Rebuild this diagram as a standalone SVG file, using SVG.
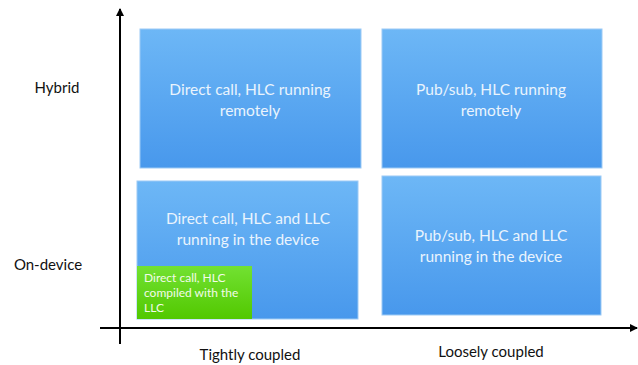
<svg xmlns="http://www.w3.org/2000/svg" width="638" height="365" viewBox="0 0 638 365">
<defs>
<linearGradient id="blue" x1="0" y1="0" x2="0" y2="1">
<stop offset="0" stop-color="#6db7f6"/>
<stop offset="1" stop-color="#4898ec"/>
</linearGradient>
<linearGradient id="green" x1="0" y1="0" x2="0" y2="1">
<stop offset="0" stop-color="#72e132"/>
<stop offset="1" stop-color="#52c800"/>
</linearGradient>
<marker id="arr" markerWidth="8" markerHeight="8" refX="7" refY="4" orient="auto" markerUnits="userSpaceOnUse">
<path d="M0,0 L8,4 L0,8 z" fill="#000"/>
</marker>
</defs>
<style>
.box{fill:url(#blue);stroke:#9ccaf5;stroke-width:1}
.gbox{fill:url(#green)}
.bt{font-family:Lato,"Open Sans",sans-serif;font-size:15.5px;fill:#eaf4fd;text-anchor:middle}
.gt{font-family:Lato,"Open Sans",sans-serif;font-size:12px;fill:#f2fbe8}
.lbl{font-family:Lato,"Open Sans",sans-serif;font-size:15px;fill:#111;text-anchor:middle}
.axis{stroke:#000;stroke-width:2;fill:none}
</style>
<rect width="638" height="365" fill="#fff"/>
<g id="connectors">
<line class="axis" x1="120" y1="344" x2="120" y2="9" marker-end="url(#arr)"/>
<line class="axis" x1="100" y1="328" x2="637" y2="328" marker-end="url(#arr)"/>
</g>
<g id="hybrid-label"><text class="lbl" x="57" y="93">Hybrid</text></g>
<g id="ondevice-label"><text class="lbl" x="48" y="270">On-device</text></g>
<g id="tight-label"><text class="lbl" x="250" y="360">Tightly coupled</text></g>
<g id="loose-label"><text class="lbl" x="491" y="357">Loosely coupled</text></g>
<g id="direct-remote">
<rect class="box" x="140" y="29" width="221" height="139"/>
<text class="bt" x="250" y="95">Direct call, HLC running</text>
<text class="bt" x="250" y="116">remotely</text>
</g>
<g id="pubsub-remote">
<rect class="box" x="382" y="29" width="220" height="139"/>
<text class="bt" x="491" y="95">Pub/sub, HLC running</text>
<text class="bt" x="491" y="116">remotely</text>
</g>
<g id="direct-device">
<rect class="box" x="137" y="181" width="221" height="138"/>
<text class="bt" x="248" y="224">Direct call, HLC and LLC</text>
<text class="bt" x="248" y="245">running in the device</text>
</g>
<g id="direct-compiled">
<rect class="gbox" x="137" y="266" width="115" height="53"/>
<text class="gt" x="144" y="282">Direct call, HLC</text>
<text class="gt" x="144" y="297">compiled with the</text>
<text class="gt" x="144" y="312">LLC</text>
</g>
<g id="pubsub-device">
<rect class="box" x="382" y="176" width="219" height="139"/>
<text class="bt" x="491" y="241">Pub/sub, HLC and LLC</text>
<text class="bt" x="491" y="262">running in the device</text>
</g>
</svg>
